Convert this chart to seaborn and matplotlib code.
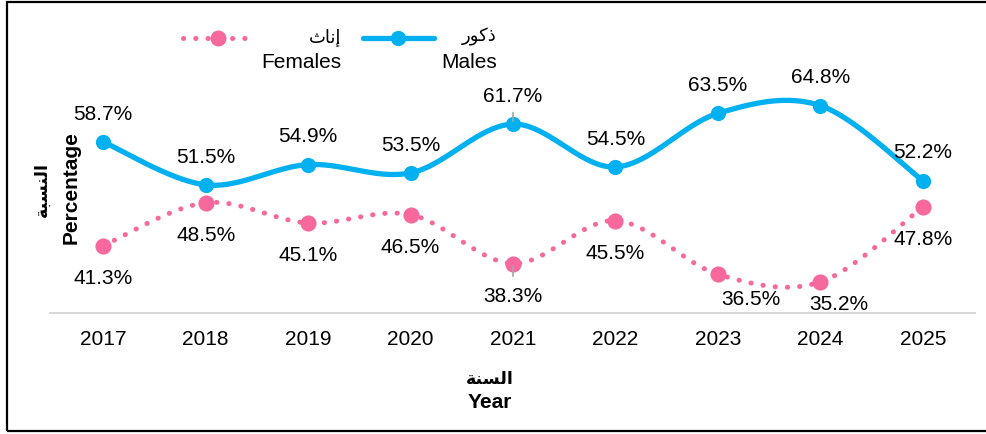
import numpy as np
import pandas as pd
import matplotlib

matplotlib.use("Agg")
import matplotlib.pyplot as plt  # noqa: E402
from matplotlib.lines import Line2D  # noqa: E402
from matplotlib.patches import Rectangle  # noqa: E402
import seaborn as sns  # noqa: E402

# dados
anos = ["2017", "2018", "2019", "2020", "2021", "2022", "2023", "2024", "2025"]
machos = [58.7, 51.5, 54.9, 53.5, 61.7, 54.5, 63.5, 64.8, 52.2]
femeas = [41.3, 48.5, 45.1, 46.5, 38.3, 45.5, 36.5, 35.2, 47.8]

rotulo_machos = ("ذكور", "Males")
rotulo_femeas = ("إناث", "Females")
rotulo_x = ("السنة", "Year")
rotulo_y = ("النسبة", "Percentage")

AZUL = "#00B0F0"
ROSA = "#F7699C"
FONTE = 15

# formas de apresentacao arabe (isolada, final, inicial, medial)
FORMAS = {
    "ا": ("\uFE8D", "\uFE8E", None, None),
    "إ": ("\uFE87", "\uFE88", None, None),
    "ذ": ("\uFEAB", "\uFEAC", None, None),
    "ر": ("\uFEAD", "\uFEAE", None, None),
    "و": ("\uFEED", "\uFEEE", None, None),
    "ة": ("\uFE93", "\uFE94", None, None),
    "ك": ("\uFED9", "\uFEDA", "\uFEDB", "\uFEDC"),
    "ن": ("\uFEE5", "\uFEE6", "\uFEE7", "\uFEE8"),
    "ث": ("\uFE99", "\uFE9A", "\uFE9B", "\uFE9C"),
    "ل": ("\uFEDD", "\uFEDE", "\uFEDF", "\uFEE0"),
    "س": ("\uFEB1", "\uFEB2", "\uFEB3", "\uFEB4"),
    "ب": ("\uFE8F", "\uFE90", "\uFE91", "\uFE92"),
}


def arabe(texto: str) -> str:
    """Liga as letras e inverte para exibicao da direita para a esquerda."""
    saida = []
    for i, ch in enumerate(texto):
        formas = FORMAS.get(ch)
        if formas is None:
            saida.append(ch)
            continue
        ant = texto[i - 1] if i > 0 else None
        prox = texto[i + 1] if i + 1 < len(texto) else None
        liga_ant = ant in FORMAS and FORMAS[ant][2] is not None
        liga_prox = prox in FORMAS and formas[2] is not None
        if liga_ant and liga_prox:
            saida.append(formas[3])
        elif liga_ant:
            saida.append(formas[1])
        elif liga_prox:
            saida.append(formas[2])
        else:
            saida.append(formas[0])
    return "".join(reversed(saida))


def suavizar(x, y, n=40):
    """Curva suave do tipo Catmull-Rom (como a linha suavizada do Excel)."""
    x = np.asarray(x, float)
    y = np.asarray(y, float)
    px = np.concatenate([[x[0]], x, [x[-1]]])
    py = np.concatenate([[y[0]], y, [y[-1]]])
    t = np.linspace(0, 1, n, endpoint=False)
    xs, ys = [], []
    for i in range(1, len(px) - 2):
        for p, dest in ((px, xs), (py, ys)):
            p0, p1, p2, p3 = p[i - 1], p[i], p[i + 1], p[i + 2]
            dest.extend(0.5 * (2 * p1 + (-p0 + p2) * t + (2 * p0 - 5 * p1 + 4 * p2 - p3) * t ** 2
                               + (-p0 + 3 * p1 - 3 * p2 + p3) * t ** 3))
    xs.append(x[-1])
    ys.append(y[-1])
    return np.array(xs), np.array(ys)


def fx(px):
    return px / 987


def fy(py):
    return 1 - py / 434


sns.set_style("white")
plt.rcParams["font.family"] = ["Liberation Sans", "DejaVu Sans"]
plt.rcParams["text.color"] = "black"

df = pd.DataFrame({"ano": anos, "pos": np.arange(len(anos)), "machos": machos, "femeas": femeas})

fig = plt.figure(figsize=(9.87, 4.34), dpi=100)
ax = fig.add_axes([fx(50), 121 / 434, 925 / 987, 298 / 434])

estilo_pontos = (0, (0.05, 2.4))

sx, sy = suavizar(df["pos"], df["femeas"])
ax.plot(sx, sy, color=ROSA, lw=3.6, linestyle=estilo_pontos, dash_capstyle="round", zorder=2)
sns.scatterplot(data=df, x="pos", y="femeas", color=ROSA, s=135, edgecolor=ROSA, linewidth=0, ax=ax, zorder=3)

sx, sy = suavizar(df["pos"], df["machos"])
ax.plot(sx, sy, color=AZUL, lw=3.8, solid_capstyle="round", zorder=2)
sns.scatterplot(data=df, x="pos", y="machos", color=AZUL, s=120, edgecolor=AZUL, linewidth=0, ax=ax, zorder=3)

# deslocamentos especiais (pt) onde o Excel afastou o rotulo
desloc_femeas = {6: (24, -18), 7: (13, -16.5)}

for i, (m, f) in enumerate(zip(machos, femeas)):
    ax.annotate(f"{m}%", (i, m), xytext=(0, 20), textcoords="offset points",
                ha="center", va="center", fontsize=FONTE)
    ax.annotate(f"{f}%", (i, f), xytext=desloc_femeas.get(i, (0, -23.5)), textcoords="offset points",
                ha="center", va="center", fontsize=FONTE)

# linhas de chamada em 2021
ax.annotate("", (4, machos[4]), xytext=(4, machos[4] + 2.4),
            arrowprops=dict(arrowstyle="-", color="#A6A6A6", lw=1.2))
ax.annotate("", (4, femeas[4]), xytext=(4, femeas[4] - 2.6),
            arrowprops=dict(arrowstyle="-", color="#A6A6A6", lw=1.2))

ax.set_xlim(-0.52, 8.51)
ax.set_ylim(30, 80)
ax.set_xticks(df["pos"])
ax.set_xticklabels(anos, fontsize=FONTE, color="black")
ax.set_yticks([])
ax.set_xlabel("")
ax.set_ylabel("")
ax.tick_params(axis="x", length=0, pad=12)
for lado in ("left", "right", "top"):
    ax.spines[lado].set_visible(False)
ax.spines["bottom"].set_color("#D9D9D9")
ax.spines["bottom"].set_linewidth(1.4)

# titulos dos eixos
fig.text(fx(490), fy(379), arabe(rotulo_x[0]), ha="center", va="center",
         fontsize=12.5, fontweight="bold")
fig.text(fx(490), fy(403), rotulo_x[1], ha="center", va="center",
         fontsize=FONTE, fontweight="bold")
fig.text(fx(42), fy(189), arabe(rotulo_y[0]), ha="center", va="center",
         rotation=90, fontsize=12.5, fontweight="bold")
fig.text(fx(71), fy(188), rotulo_y[1], ha="center", va="center",
         rotation=90, fontsize=FONTE, fontweight="bold")

# legenda desenhada a mao (icone alinhado com a primeira linha)
fig.add_artist(Line2D([fx(183), fx(250)], [fy(38), fy(38)], color=ROSA, lw=3.6,
                      linestyle=estilo_pontos, dash_capstyle="round", transform=fig.transFigure))
fig.add_artist(Line2D([fx(218)], [fy(38)], color=ROSA, marker="o", markersize=11.5,
                      markeredgewidth=0, transform=fig.transFigure))
fig.add_artist(Line2D([fx(363), fx(434)], [fy(38), fy(38)], color=AZUL, lw=3.8,
                      solid_capstyle="round", transform=fig.transFigure))
fig.add_artist(Line2D([fx(398)], [fy(38)], color=AZUL, marker="o", markersize=11,
                      markeredgewidth=0, transform=fig.transFigure))
for direita, (ar, en) in ((fx(341), rotulo_femeas), (fx(497), rotulo_machos)):
    fig.text(direita, fy(37), arabe(ar), ha="right", va="center", fontsize=13)
    fig.text(direita, fy(62), en, ha="right", va="center", fontsize=FONTE)

# moldura externa
fig.patches.append(Rectangle((fx(7), 3 / 434), 1.0, 1 - 5 / 434, transform=fig.transFigure,
                             fill=False, edgecolor="black", lw=1.6, figure=fig))

fig.savefig("out.png", dpi=100)
